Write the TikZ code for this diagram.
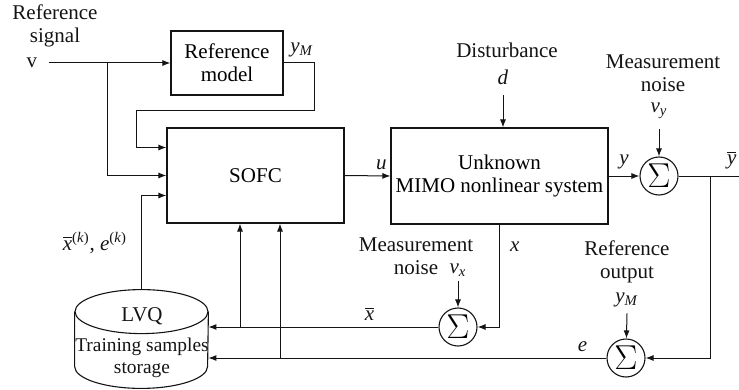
\documentclass[tikz,border=0pt]{standalone}
\usepackage{fontspec}
\setmainfont{Liberation Serif}
\usetikzlibrary{arrows.meta,positioning,shapes.geometric,calc}
\definecolor{ink}{RGB}{20,20,20}
\tikzset{
  >={Latex[length=4pt,width=3pt]},
  block/.style={draw=ink,line width=0.55pt,align=center,inner sep=0pt,
    font=\fontsize{10.5}{11.5}\selectfont},
  summer/.style={circle,draw=ink,line width=0.55pt,minimum size=19pt,inner sep=0pt,
    font=\fontsize{16}{16}\selectfont},
  store/.style={minimum width=66.5pt,minimum height=49pt,inner sep=0pt},
  drum/.style={draw=ink,line width=0.55pt},
  tag/.style={align=center,inner sep=0pt,text=ink,font=\fontsize{10.5}{11.5}\selectfont},
  flow/.style={->,line width=0.5pt,draw=ink},
}
\newcommand{\iv}[1]{\textit{#1}}

\begin{document}
\begin{tikzpicture}[x=0.5pt,y=-0.5pt]
  \useasboundingbox (0,0) rectangle (739,390);
  % blocks
  \node[block,minimum width=56pt,minimum height=32pt] (refm) at (227,63) {Reference\\model};
  \node[block,minimum width=88.5pt,minimum height=47.5pt] (sofc) at (255.5,175.5) {SOFC};
  \node[block,minimum width=108.5pt,minimum height=48pt] (plant) at (499.5,176) {Unknown\\MIMO nonlinear system};
  \node[store] (lvq) at (141.5,339) {};
  \draw[drum] ([yshift=-11pt]lvq.north) ellipse [x radius=33.25pt,y radius=11pt];
  \draw[drum] ([yshift=-11pt]lvq.north west) -- ([yshift=11pt]lvq.south west)
    arc[start angle=180,end angle=360,x radius=33.25pt,y radius=11pt] -- ([yshift=-11pt]lvq.north east);
  \node[tag,font=\fontsize{9.7}{11}\selectfont] (lvqtxt) at (142,343) {{\fontsize{10.5}{11.5}\selectfont LVQ}\\[4pt]Training samples\\storage};
  \node[summer] (sy) at (659,176) {$\Sigma$};
  \node[summer] (sx) at (458,327) {$\Sigma$};
  \node[summer] (se) at (626,358) {$\Sigma$};
  % texts
  \node[tag] (vinlbl) at (55,26) {Reference\\signal};
  \node[tag] (vin) at (32,63) {v};
  \node[tag] (ymtop) at (302,50) {\iv{y}\textsubscript{\iv{M}}};
  \node[tag] (dist) at (507,50) {Disturbance};
  \node[tag] (dvar) at (503,77) {\iv{d}};
  \node[tag] (mny) at (663,73) {Measurement\\noise};
  \node[tag] (vy) at (659,111) {\iv{v}\textsubscript{\iv{y}}};
  \node[tag] (mnx) at (416,256) {Measurement\\noise};
  \node[tag] (vx) at (458,270) {\iv{v}\textsubscript{\iv{x}}};
  \node[tag] (refout) at (627,262) {Reference\\output};
  \node[tag] (ymbot) at (627,300) {\iv{y}\textsubscript{\iv{M}}};
  \coordinate (vsplit) at (107,63);
  \coordinate (ymbend) at (136,111);
  \coordinate (ysplit) at (710,176);
  \coordinate (yout) at (739,176);
  \coordinate (xsplit) at (240,327);
  \coordinate (esplit) at (280,358);
  % connectors
  \draw[flow] ([xshift=5.5pt]vin.east) -- (refm.west);
  \draw[flow] (vsplit) |- (sofc.west);
  \draw[flow] (refm.east) -- ++(31,0) |- (ymbend) |- ([yshift=14pt]sofc.west);
  \draw[flow] (lvq.north) |- node[tag,pos=0.25,left=7pt]{$\overline{\mbox{\iv{x}}}$\textsuperscript{(\iv{k})}, \iv{e}\textsuperscript{(\iv{k})}} ([yshift=-10pt]sofc.west);
  \draw[flow] (sofc.east) -- node[tag,pos=0.8,above=3pt]{\iv{u}} (plant.west);
  \draw[flow] ([yshift=-5pt]dvar.south) -- (dvar.south |- plant.north);
  \draw[flow] (plant.east) -- node[tag,above=3pt]{\iv{y}} (sy);
  \draw[flow] ([yshift=-5pt]vy.south) -- (sy);
  \draw[line width=0.5pt,draw=ink] (sy) -- node[tag,pos=0.88,above=3pt]{$\overline{\mbox{\iv{y}}}$} (yout);
  \draw[flow] (ysplit) |- (se);
  \draw[flow] ([yshift=-3pt]ymbot.south) -- (se);
  \draw[flow] (se) -- node[tag,pos=0.06,above=3pt]{\iv{e}} (se -| lvq.east);
  \draw[flow] (plant.south) |- node[tag,pos=0.11,right=5pt]{\iv{x}} (sx);
  \draw[flow] ([yshift=-2pt]vx.south) -- (sx);
  \draw[flow] (sx) -- node[tag,pos=0.3,above=3pt]{$\overline{\mbox{\iv{x}}}$} (sx -| lvq.east);
  \draw[flow] (xsplit) -- (xsplit |- sofc.south);
  \draw[flow] (esplit) -- (esplit |- sofc.south);
\end{tikzpicture}
\end{document}
